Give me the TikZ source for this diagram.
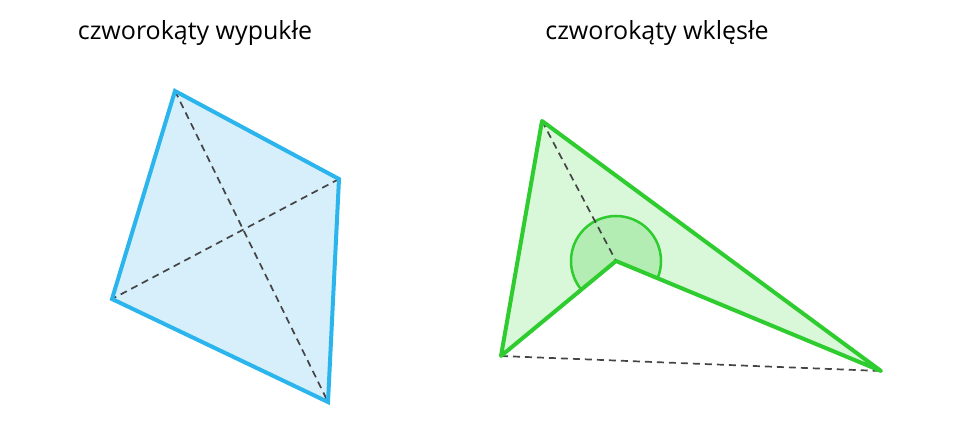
\documentclass[tikz,border=0pt]{standalone}
\usepackage{fontspec}
\setmainfont{Open Sans}
\usepackage{xcolor}
\usepackage{tikz}
\definecolor{blueline}{RGB}{43,181,236}
\definecolor{bluefill}{RGB}{214,239,250}
\definecolor{greenline}{RGB}{46,204,46}
\definecolor{greenfill}{RGB}{217,247,217}
\definecolor{anglefill}{RGB}{180,237,180}
\definecolor{diag}{RGB}{68,68,68}

\begin{document}
\begin{tikzpicture}[x=1pt,y=1pt,
    edge/.style={line width=4pt, line join=miter},
    diagonal/.style={diag, line width=1.7pt, dash pattern=on 7pt off 5pt},
    title/.style={font=\fontsize{25}{30}\selectfont, text=black}]
    \useasboundingbox (0,0) rectangle (960,421);
    % Convex quadrilateral
    \coordinate (A) at (175,330);
    \coordinate (B) at (339,242);
    \coordinate (C) at (328,19);
    \coordinate (D) at (112,122);
    \fill[bluefill] (A) -- (B) -- (C) -- (D) -- cycle;
    \draw[diagonal] (A) -- (C);
    \draw[diagonal] (B) -- (D);
    \draw[blueline, edge] (A) -- (B) -- (C) -- (D) -- cycle;
    \node[title] (convex) at (195,388) {czworokąty wypukłe};
    % Concave quadrilateral
    \coordinate (P) at (542,300);
    \coordinate (Q) at (881,50);
    \coordinate (R) at (616,160);
    \coordinate (S) at (501,65);
    \fill[greenfill] (P) -- (Q) -- (R) -- (S) -- cycle;
    \fill[anglefill, draw=greenline, line width=2.5pt] (R) -- ++(-22.5:45) arc (-22.5:219.6:45) -- cycle;
    \draw[diagonal] (P) -- (R);
    \draw[diagonal] (S) -- (Q);
    \draw[greenline, edge, line join=round] (P) -- (Q) -- (R) -- (S) -- cycle;
    \node[title] (concave) at (657,388) {czworokąty wklęsłe};
\end{tikzpicture}
\end{document}
